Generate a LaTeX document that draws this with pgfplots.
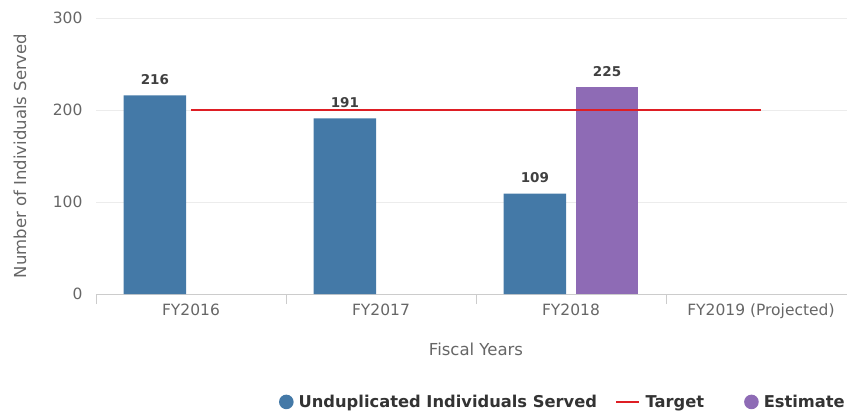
\documentclass[border=0pt]{standalone}
\usepackage{pgfplots}
\pgfplotsset{compat=1.18}
\usepackage{fontspec}
\setmainfont{DejaVu Sans}
\definecolor{barblue}{RGB}{68,121,167}
\definecolor{barpurple}{RGB}{142,107,181}
\definecolor{tgtred}{RGB}{222,30,36}
\definecolor{txtgray}{RGB}{102,102,102}
\begin{document}
\begin{tikzpicture}[x=1pt,y=1pt]
\useasboundingbox (0,0) rectangle (847,413);
\begin{axis}[
    at={(96pt,119pt)}, anchor=south west,
    scale only axis,
    width=751pt, height=276pt,
    xmin=-0.5, xmax=3.453,
    ymin=0, ymax=300,
    xtick={0,1,2,3},
    xticklabels={FY2016,FY2017,FY2018,FY2019 (Projected)},
    minor xtick={-0.5,0.5,1.5,2.5,3.5},
    ytick={0,100,200,300},
    major tick length=0pt,
    minor tick length=10pt,
    tick align=outside,
    minor tick style={gray!40},
    axis x line*=bottom,
    axis y line*=left,
    axis line style={-},
    x axis line style={gray!40},
    y axis line style={draw=none},
    ymajorgrids,
    grid style={gray!15},
    /pgf/number format/assume math mode=true,
    tick label style={font=\fontsize{15.5}{17}\selectfont, text=txtgray},
    xticklabel style={yshift=-6pt},
    yticklabel style={xshift=-10pt},
    xlabel={Fiscal Years},
    ylabel={Number of Individuals Served},
    label style={font=\fontsize{16.5}{18}\selectfont, text=txtgray},
    xlabel style={at={(axis description cs:0.5060,-0.199)}, anchor=center},
    ylabel style={at={(axis description cs:-0.1012,0.5)}, anchor=center},
    legend columns=-1,
    legend style={at={(axis description cs:1.004,-0.391)}, anchor=east, draw=none, fill=none,
        font=\fontsize{16.3}{18}\selectfont\bfseries, text=black!80,
        /tikz/every odd column/.append style={column sep=3pt},
        /tikz/every even column/.append style={column sep=16pt}},
]
\addplot[ybar, draw=none, fill=barblue, bar width=0.33, bar shift=-0.19,
    nodes near coords, nodes near coords style={font=\fontsize{13.5}{15}\selectfont\bfseries, text=black!75, yshift=7pt, xshift=-36.1pt},
    legend image code/.code={\fill[barblue] (7.3pt,0) circle (7.3pt);}]
    coordinates {(0,216) (1,191) (2,109)};
\addlegendentry{Unduplicated Individuals Served}
\addlegendimage{legend image code/.code={\draw[tgtred, line width=2.6pt] (0,0) -- (23pt,0);}}
\addlegendentry{Target\hspace{22pt}\mbox{}}
\addplot[ybar, draw=none, fill=barpurple, bar width=0.33, bar shift=0.19,
    nodes near coords, nodes near coords style={font=\fontsize{13.5}{15}\selectfont\bfseries, text=black!75, yshift=7pt, xshift=36.1pt},
    legend image code/.code={\fill[barpurple] (7.3pt,0) circle (7.3pt);}]
    coordinates {(2,225)};
\addlegendentry{Estimate}
\addplot[forget plot, sharp plot, tgtred, line width=2.6pt] coordinates {(0,200) (3,200)};
\end{axis}
\end{tikzpicture}
\end{document}
